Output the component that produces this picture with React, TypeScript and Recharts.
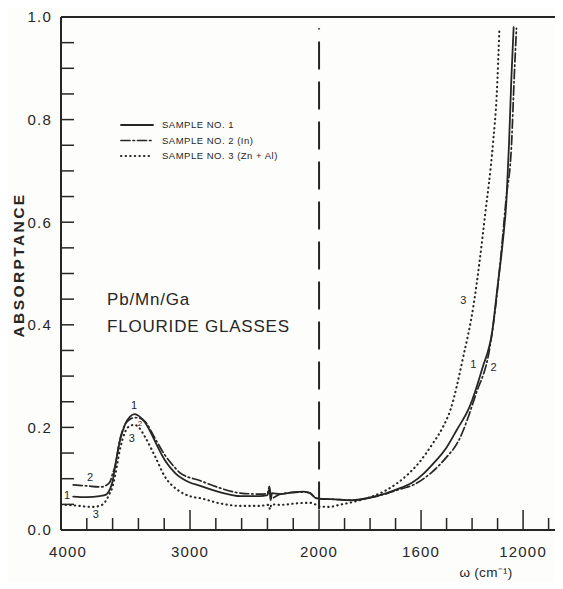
import { LineChart, Line, XAxis, YAxis, ReferenceLine, ReferenceDot } from 'recharts';

// wavenumbers (cm-1) and absorptance
const wn1 = [3905, 3800, 3700, 3650, 3620, 3600, 3580, 3545, 3505, 3465, 3430, 3395, 3350, 3300, 3270, 3195, 3115, 3015, 2920, 2770, 2610, 2460, 2400, 2385, 2375, 2365, 2300, 2200, 2120, 2070, 2030, 2000, 1950, 1870, 1800, 1735, 1680, 1630, 1590, 1555, 1500, 1460, 1410, 1360, 1320, 1300, 1280, 1265, 1255, 1246, 1237];
const abs1 = [0.065, 0.064, 0.066, 0.069, 0.08, 0.095, 0.125, 0.172, 0.205, 0.221, 0.226, 0.222, 0.21, 0.188, 0.172, 0.136, 0.111, 0.094, 0.086, 0.074, 0.066, 0.066, 0.068, 0.08, 0.058, 0.072, 0.07, 0.074, 0.075, 0.072, 0.063, 0.061, 0.06, 0.058, 0.063, 0.072, 0.082, 0.094, 0.11, 0.128, 0.161, 0.195, 0.24, 0.315, 0.39, 0.475, 0.56, 0.645, 0.755, 0.88, 0.98];

const wn2 = [3905, 3800, 3690, 3650, 3620, 3600, 3580, 3545, 3505, 3465, 3430, 3390, 3350, 3270, 3195, 3115, 3080, 2920, 2770, 2610, 2460, 2400, 2385, 2370, 2300, 2200, 2120, 2070, 2030, 2000, 1950, 1870, 1800, 1735, 1680, 1630, 1555, 1500, 1455, 1385, 1330, 1305, 1285, 1267, 1245, 1235, 1226];
const abs2 = [0.088, 0.086, 0.084, 0.087, 0.094, 0.11, 0.125, 0.175, 0.205, 0.216, 0.219, 0.218, 0.212, 0.178, 0.146, 0.121, 0.112, 0.096, 0.082, 0.072, 0.07, 0.071, 0.085, 0.062, 0.07, 0.073, 0.074, 0.072, 0.063, 0.061, 0.06, 0.058, 0.063, 0.071, 0.08, 0.088, 0.114, 0.142, 0.172, 0.265, 0.357, 0.448, 0.545, 0.643, 0.755, 0.88, 0.978];

const wn3 = [4000, 3900, 3760, 3700, 3660, 3625, 3600, 3580, 3545, 3505, 3465, 3430, 3390, 3350, 3270, 3195, 3095, 2990, 2920, 2770, 2610, 2460, 2390, 2380, 2370, 2300, 2170, 2070, 2030, 2000, 1960, 1920, 1840, 1735, 1655, 1605, 1555, 1515, 1485, 1435, 1395, 1370, 1350, 1318, 1303, 1293];
const abs3 = [0.049, 0.048, 0.045, 0.047, 0.054, 0.07, 0.085, 0.107, 0.155, 0.19, 0.203, 0.205, 0.198, 0.182, 0.143, 0.104, 0.078, 0.065, 0.062, 0.052, 0.047, 0.047, 0.049, 0.04, 0.05, 0.049, 0.052, 0.053, 0.05, 0.046, 0.045, 0.049, 0.058, 0.078, 0.107, 0.133, 0.168, 0.2, 0.234, 0.337, 0.436, 0.526, 0.61, 0.754, 0.852, 0.975];

const seriesNames = ['SAMPLE NO. 1', 'SAMPLE NO. 2 (In)', 'SAMPLE NO. 3 (Zn + Al)'];

const xTicks = [4000, 3800, 3600, 3400, 3200, 3000, 2800, 2600, 2400, 2200, 2000, 1900, 1800, 1700, 1600, 1500, 1400, 1300, 1200, 1100];
const xLabels: Record<number, string> = { 4000: '4000', 3000: '3000', 2000: '2000', 1600: '1600', 1200: '12000' };
const yTicks = [0, 0.05, 0.1, 0.15, 0.2, 0.25, 0.3, 0.35, 0.4, 0.45, 0.5, 0.55, 0.6, 0.65, 0.7, 0.75, 0.8, 0.85, 0.9, 0.95, 1];
const yLabels = [0, 0.2, 0.4, 0.6, 0.8, 1];

const curveTags = [
  { text: '1', wn: 3434, a: 0.244, size: 11 },
  { text: '3', wn: 3452, a: 0.179, size: 11 },
  { text: '2', wn: 3388, a: 0.209, size: 8 },
  { text: '2', wn: 3775, a: 0.103, size: 11 },
  { text: '1', wn: 3953, a: 0.068, size: 11 },
  { text: '3', wn: 3731, a: 0.031, size: 11 },
  { text: '3', wn: 1434, a: 0.448, size: 11 },
  { text: '1', wn: 1395, a: 0.324, size: 11 },
  { text: '2', wn: 1316, a: 0.318, size: 11 },
];

// the axis is broken at 2000 cm-1: below it the scale is twice as wide
const pos = (w: number) => (w >= 2000 ? (4000 - w) * 0.129 : 258 + (2000 - w) * 0.255);
const X_END = pos(1020);
const tickPos = xTicks.map(pos);
const wnAt = (p: number) => xTicks[tickPos.findIndex((t) => Math.abs(t - p) < 1e-6)];

const ink = '#262626';
const font = '"Liberation Sans", Arial, sans-serif';

const toRows = (wn: number[], a: number[]) => wn.map((w, i) => ({ x: pos(w), a: a[i] }));
const series = [
  { name: seriesNames[0], data: toRows(wn1, abs1), dash: undefined, width: 1.8 },
  { name: seriesNames[1], data: toRows(wn2, abs2), dash: '9 3 1.5 3', width: 1.7 },
  { name: seriesNames[2], data: toRows(wn3, abs3), dash: '0.4 4.2', width: 2.1 },
];

const BottomTick = (props: any) => {
  const { x, y, payload } = props;
  const w = wnAt(payload.value);
  const label = xLabels[w];
  return (
    <g>
      <line x1={x} x2={x} y1={y} y2={y - (label ? 20 : 12)} stroke={ink} strokeWidth={1.5} />
      {label && (
        <text x={x + (w === 4000 ? 7 : 0)} y={y + 27} textAnchor="middle" fontSize={15} letterSpacing={1.2} fill={ink} fontFamily={font}>
          {label}
        </text>
      )}
    </g>
  );
};

const TopTick = (props: any) => {
  const { x, y } = props;
  return <line x1={x} x2={x} y1={y} y2={y + 10} stroke={ink} strokeWidth={1.5} />;
};

const LeftTick = (props: any) => {
  const { x, y, payload } = props;
  const v = payload.value;
  const show = yLabels.some((l) => Math.abs(l - v) < 1e-6);
  return (
    <g>
      <line x1={x} x2={x + 13} y1={y} y2={y} stroke={ink} strokeWidth={1.5} />
      {show && (
        <text x={x - 9} y={y} dy="0.36em" textAnchor="end" fontSize={15} letterSpacing={1.2} fill={ink} fontFamily={font}>
          {v.toFixed(1)}
        </text>
      )}
    </g>
  );
};

const RightTick = (props: any) => {
  const { x, y } = props;
  return <line x1={x} x2={x - 11} y1={y} y2={y} stroke={ink} strokeWidth={1.2} />;
};

export default function App() {
  return (
    <div style={{ width: 555, height: 575, overflow: 'hidden', background: '#fdfdfc' }}>
      <LineChart width={562} height={575} margin={{ top: 8, right: 0, left: 0, bottom: 13 }}>
        <XAxis xAxisId="b" type="number" dataKey="x" domain={[0, X_END]} ticks={tickPos} interval={0}
          height={40} tickSize={0} tickMargin={0} tick={<BottomTick />} axisLine={{ stroke: ink, strokeWidth: 2 }} />
        <XAxis xAxisId="t" orientation="top" type="number" dataKey="x" domain={[0, X_END]} ticks={tickPos} interval={0}
          height={1} tickSize={0} tickMargin={0} tick={<TopTick />} axisLine={{ stroke: ink, strokeWidth: 2 }} />
        <YAxis yAxisId="l" type="number" domain={[0, 1]} ticks={yTicks} interval={0} width={53}
          tickSize={0} tickMargin={0} tick={<LeftTick />} axisLine={{ stroke: ink, strokeWidth: 2 }} />
        <YAxis yAxisId="r" orientation="right" type="number" domain={[0, 1]} ticks={yTicks} interval={0} width={1}
          tickSize={0} tickMargin={0} tick={<RightTick />} axisLine={false} />

        <ReferenceLine xAxisId="b" yAxisId="l" segment={[{ x: pos(2000), y: 0.04 }, { x: pos(2000), y: 0.978 }]}
          stroke={ink} strokeWidth={2} strokeDasharray="28 12" />

        {series.map((s) => (
          <Line key={s.name} xAxisId="b" yAxisId="l" data={s.data} dataKey="a" name={s.name} type="monotone"
            dot={false} stroke={ink} strokeWidth={s.width} strokeDasharray={s.dash} strokeLinecap="round"
            isAnimationActive={false} />
        ))}

        {curveTags.map((t, i) => (
          <ReferenceDot key={i} xAxisId="b" yAxisId="l" x={pos(t.wn)} y={t.a} r={0} stroke="none"
            label={{ value: t.text, position: 'center', fontSize: t.size, fill: ink, fontFamily: font }} />
        ))}

        {series.map((s, i) => (
          <g key={'lg' + i}>
            <line x1={113} x2={145} y1={117 + i * 15.5} y2={117 + i * 15.5} stroke={ink} strokeWidth={s.width}
              strokeDasharray={s.dash} strokeLinecap="round" />
            <text x={154} y={117 + i * 15.5} dy="0.36em" fontSize={9.5} letterSpacing={0.5} fill={ink} fontFamily={font}>
              {s.name}
            </text>
          </g>
        ))}

        <text x={99} y={297} fontSize={17} letterSpacing={0.8} fill={ink} fontFamily={font}>Pb/Mn/Ga</text>
        <text x={99} y={324} fontSize={17} letterSpacing={0.8} fill={ink} fontFamily={font}>FLOURIDE GLASSES</text>
        <text x={16} y={257} transform="rotate(-90 16 257)" textAnchor="middle" fontSize={15.5} letterSpacing={2.4}
          fontWeight={600} fill={ink} fontFamily={font}>ABSORPTANCE</text>
        <text x={478} y={569} textAnchor="middle" fontSize={13.5} letterSpacing={0.3} fill={ink} fontFamily={font}>ω (cm⁻¹)</text>
      </LineChart>
    </div>
  );
}
